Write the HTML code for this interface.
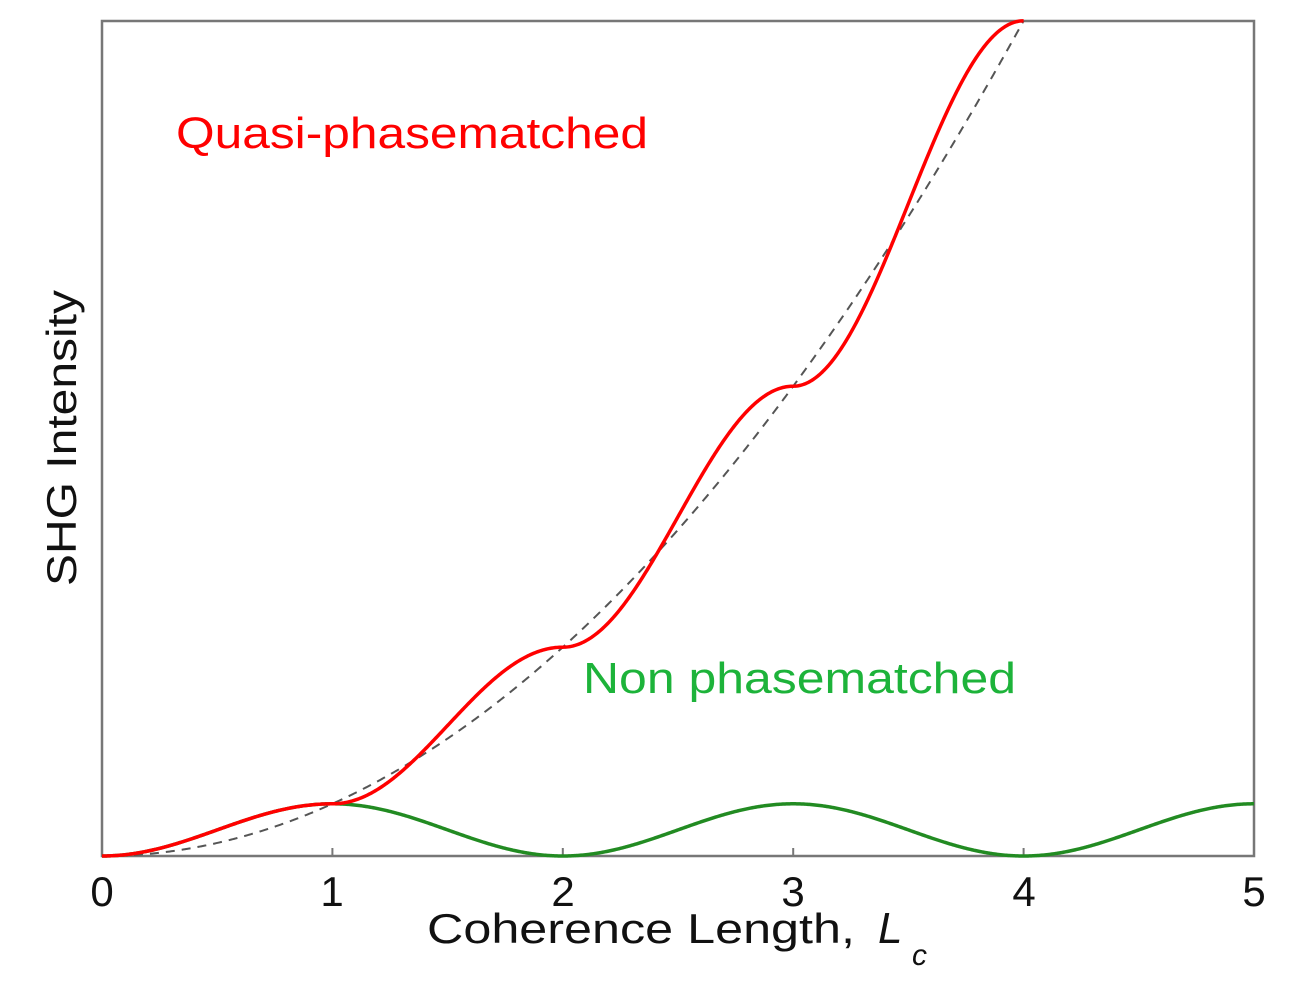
<!DOCTYPE html>
<html><head><meta charset="utf-8"><style>
html,body{margin:0;padding:0;background:#fff;}
svg{display:block;font-family:"Liberation Sans",Arial,sans-serif;}
</style></head><body>
<svg id="s" width="1296" height="981" viewBox="0 0 1296 981">
<rect x="102" y="21" width="1152" height="835" fill="none" stroke="#777" stroke-width="2.5"/>
<g stroke="#777" stroke-width="2">
<line x1="332.4" y1="856" x2="332.4" y2="848"/><line x1="562.8" y1="856" x2="562.8" y2="848"/>
<line x1="793.2" y1="856" x2="793.2" y2="848"/><line x1="1023.6" y1="856" x2="1023.6" y2="848"/>
</g>
<path id="dash" fill="none" stroke="#555" stroke-width="2" stroke-dasharray="9,7"/>
<path id="grn" fill="none" stroke="#228b22" stroke-width="3.5"/>
<path id="red" fill="none" stroke="#f00" stroke-width="3.5"/>
<g font-size="42" fill="#111" text-anchor="middle">
<text x="102" y="906">0</text><text x="332" y="906">1</text><text x="563" y="906">2</text>
<text x="793" y="906">3</text><text x="1024" y="906">4</text><text x="1254" y="906">5</text>
</g>
<text x="427" y="943" font-size="42" fill="#111" textLength="428" lengthAdjust="spacingAndGlyphs">Coherence Length,</text>
<text x="878" y="943" font-size="44" font-style="italic" fill="#111">L</text>
<text x="912" y="965" font-size="30" font-style="italic" fill="#111">c</text>
<text transform="translate(76,438) rotate(-90)" font-size="42" fill="#111" text-anchor="middle" textLength="296" lengthAdjust="spacingAndGlyphs">SHG Intensity</text>
<text x="176" y="148" font-size="44" fill="#f00" textLength="472" lengthAdjust="spacingAndGlyphs">Quasi-phasematched</text>
<text x="583" y="693" font-size="44" fill="#1db33a" textLength="433" lengthAdjust="spacingAndGlyphs">Non phasematched</text>
</svg>
<script>
var X=function(x){return 102+230.4*x},Y=function(v){return 856-52.2*v};
var r="",g="",d="";
for(var i=0;i<=1000;i++){var x=5*i/1000;
 var s=Math.sin(Math.PI*x/2);g+=(i?"L":"M")+X(x).toFixed(2)+" "+Y(s*s).toFixed(2);}
for(var i=0;i<=800;i++){var x=4*i/800;var n=Math.floor(x);if(n>3)n=3;var f=x-n;
 var a=Math.sin(Math.PI*f),b=2*n+1-Math.cos(Math.PI*f);var I=(a*a+b*b)/4;
 r+=(i?"L":"M")+X(x).toFixed(2)+" "+Y(I).toFixed(2);
 d+=(i?"L":"M")+X(x).toFixed(2)+" "+Y(x*x).toFixed(2);}
document.getElementById("red").setAttribute("d",r);
document.getElementById("grn").setAttribute("d",g);
document.getElementById("dash").setAttribute("d",d);
</script>
</body></html>
